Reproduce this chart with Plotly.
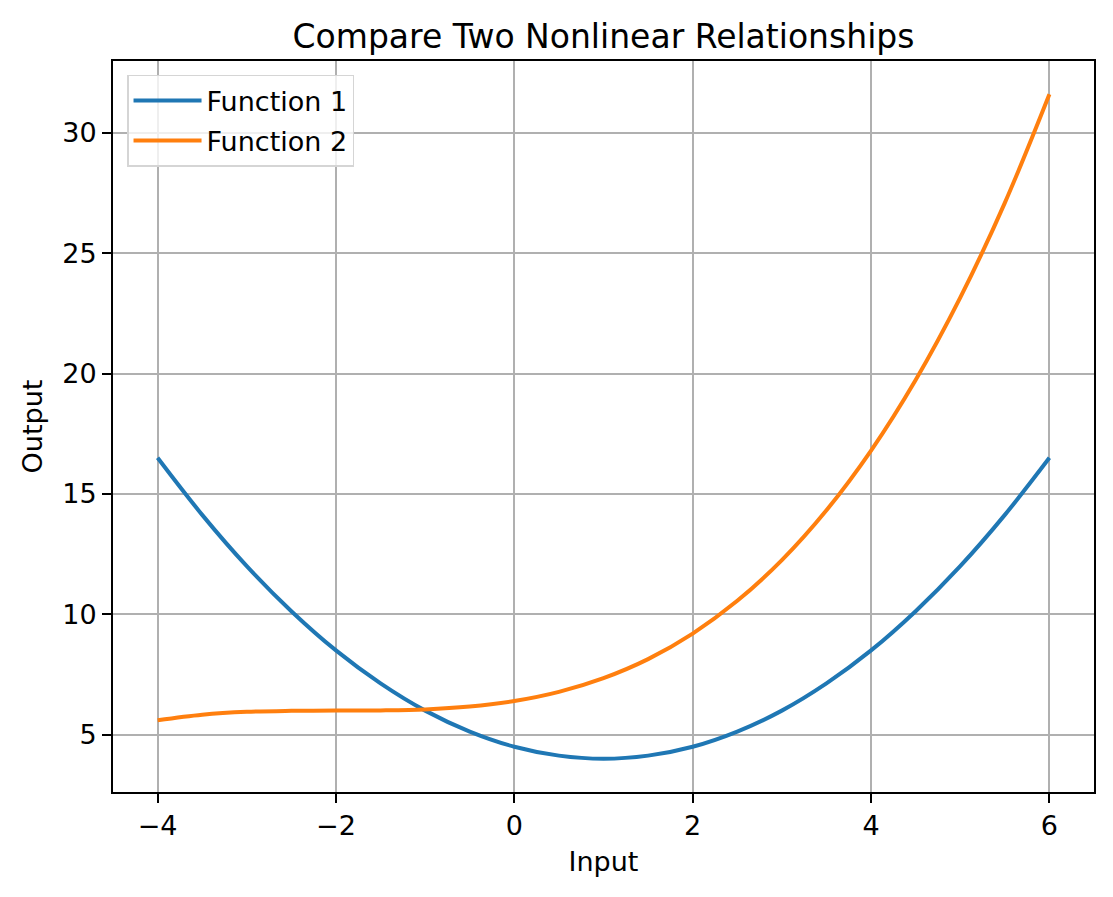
import plotly.graph_objects as go

# values (step 0.5)
x_vals = [-4.0, -3.5, -3.0, -2.5, -2.0, -1.5, -1.0, -0.5, 0.0, 0.5, 1.0,
          1.5, 2.0, 2.5, 3.0, 3.5, 4.0, 4.5, 5.0, 5.5, 6.0]
func1 = [16.5, 14.13, 12.0, 10.13, 8.5, 7.13, 6.0, 5.13, 4.5, 4.13, 4.0,
         4.13, 4.5, 5.13, 6.0, 7.13, 8.5, 10.13, 12.0, 14.13, 16.5]
func2 = [5.6, 5.83, 5.95, 5.99, 6.0, 6.01, 6.05, 6.17, 6.4, 6.78, 7.35,
         8.14, 9.2, 10.56, 12.25, 14.32, 16.8, 19.73, 23.15, 27.09, 31.6]

x_ticks = [-4, -2, 0, 2, 4, 6]
x_labels = ["\u22124", "\u22122", "0", "2", "4", "6"]
y_ticks = [5, 10, 15, 20, 25, 30]

font = "DejaVu Sans"

fig = go.Figure()
fig.add_trace(go.Scatter(x=x_vals, y=func1, mode="lines", name="Function 1", legendgroup="f1",
                         line=dict(color="#1f77b4", width=4, shape="spline")))
fig.add_trace(go.Scatter(x=x_vals, y=func2, mode="lines", name="Function 2", legendgroup="f2",
                         line=dict(color="#ff7f0e", width=4, shape="spline")))

axis_common = dict(
    showline=True, linecolor="black", linewidth=2, mirror=True,
    ticks="outside", ticklen=9, tickwidth=2, tickcolor="black",
    showgrid=True, gridcolor="#b0b0b0", gridwidth=1.6, zeroline=False,
    automargin=False,
    tickfont=dict(family=font, size=27, color="black"),
)

# page body has an 8px margin, so the figure is shrunk to fit the window
fig.update_layout(
    width=1097, height=881,
    paper_bgcolor="white", plot_bgcolor="white",
    margin=dict(l=105, r=11, t=53, b=97),
    font=dict(family=font, color="black"),
    title=dict(text="Compare Two Nonlinear Relationships", xref="paper", x=0.5, xanchor="center",
               y=0.968, yanchor="middle", font=dict(family=font, size=33, color="black")),
    xaxis=dict(range=[-4.5, 6.5], tickvals=x_ticks, ticktext=x_labels,
               title=dict(text="Input", font=dict(family=font, size=27), standoff=12),
               **axis_common),
    yaxis=dict(range=[2.62, 32.98], tickvals=y_ticks,
               title=dict(text="Output", font=dict(family=font, size=27), standoff=12),
               **axis_common),
    legend=dict(x=0.0143, y=0.981, xanchor="left", yanchor="top",
                bgcolor="rgba(255,255,255,0.8)", bordercolor="#d5d5d5", borderwidth=1.5,
                font=dict(family=font, size=27, color="black"), itemwidth=68,
                tracegroupgap=2),
    showlegend=True,
)

fig.write_html("out.html")
